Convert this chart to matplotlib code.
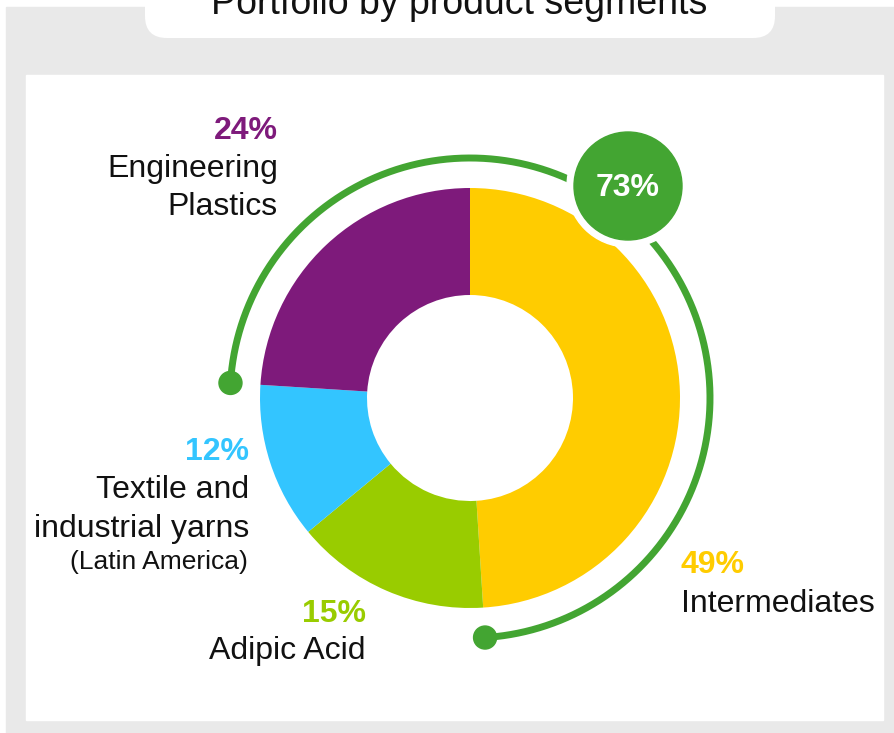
import numpy as np
import matplotlib
matplotlib.use("Agg")
import matplotlib.pyplot as plt
from matplotlib.patches import Rectangle, FancyBboxPatch, Circle

plt.rcParams['font.family'] = ['Liberation Sans', 'DejaVu Sans']

# data (clockwise from 12 o'clock)
segments = ['Intermediates', 'Adipic Acid', 'Textile and\nindustrial yarns', 'Engineering\nPlastics']
shares = [49, 15, 12, 24]
colors = ['#FFCC00', '#99CC00', '#33C5FF', '#7E1A7B']
highlight_share = 73   # Intermediates + Engineering Plastics
title = 'Portfolio by product segments'

W, H = 895, 733
fig = plt.figure(figsize=(W / 100, H / 100), dpi=100)
ax = fig.add_axes([0, 0, 1, 1])

def Y(y):
    # pixel row (top down) -> axes y
    return H - y

# backgrounds
ax.add_patch(Rectangle((6, 0), W - 6, Y(7), color='#e9e9e9', zorder=0))
ax.add_patch(Rectangle((26, Y(720)), 857, 645, color='white', zorder=1))
ax.add_patch(FancyBboxPatch((145, Y(38)), 630, 60, boxstyle='round,pad=0,rounding_size=22',
                            fc='white', ec='none', zorder=1))
ax.text(459, Y(14), title, fontsize=27, ha='center', va='baseline', color='#111111', zorder=3)

# donut
cx, cy = 470, Y(398)
ax.pie(shares, colors=colors, startangle=90, counterclock=False, center=(cx, cy),
       radius=210, wedgeprops=dict(width=107, linewidth=0), frame=True)

# green arc spanning Engineering Plastics + Intermediates
green = '#43A532'
a0 = 90 + 360 * shares[3] / 100
a1 = 90 - 360 * shares[0] / 100
th = np.radians(np.linspace(a0, a1, 300))
r_arc = 240
ax.plot(cx + r_arc * np.cos(th), cy + r_arc * np.sin(th), color=green, lw=5, solid_capstyle='butt', zorder=4)
for a in (a0, a1):
    ax.add_patch(Circle((cx + r_arc * np.cos(np.radians(a)), cy + r_arc * np.sin(np.radians(a))),
                        11.5, color=green, zorder=5))

# 73% badge
bx, by = 628, Y(186)
ax.add_patch(Circle((bx, by), 61, color='white', zorder=6))
ax.add_patch(Circle((bx, by), 54, color=green, zorder=7))
ax.text(bx, Y(196), f'{highlight_share}%', fontsize=23, fontweight='bold', color='white',
        ha='center', va='baseline', zorder=8)

fs = 23
# Engineering Plastics
ax.text(278, Y(139), f'{shares[3]}%', fontsize=fs, fontweight='bold', color=colors[3], ha='right', va='baseline')
ax.text(278, Y(177), 'Engineering', fontsize=fs, color='#111111', ha='right', va='baseline')
ax.text(278, Y(215), 'Plastics', fontsize=fs, color='#111111', ha='right', va='baseline')

# Textile and industrial yarns
ax.text(249, Y(460), f'{shares[2]}%', fontsize=fs, fontweight='bold', color=colors[2], ha='right', va='baseline')
ax.text(249, Y(498), 'Textile and', fontsize=fs, color='#111111', ha='right', va='baseline')
ax.text(249, Y(537), 'industrial yarns', fontsize=fs, color='#111111', ha='right', va='baseline')
ax.text(248, Y(569), '(Latin America)', fontsize=19, color='#111111', ha='right', va='baseline')

# Adipic Acid
ax.text(366, Y(622), f'{shares[1]}%', fontsize=fs, fontweight='bold', color=colors[1], ha='right', va='baseline')
ax.text(366, Y(659), 'Adipic Acid', fontsize=fs, color='#111111', ha='right', va='baseline')

# Intermediates
ax.text(681, Y(573), f'{shares[0]}%', fontsize=fs, fontweight='bold', color=colors[0], ha='left', va='baseline')
ax.text(681, Y(612), 'Intermediates', fontsize=fs, color='#111111', ha='left', va='baseline')

ax.set_xlim(0, W)
ax.set_ylim(0, H)
ax.set_aspect('auto')
ax.axis('off')

fig.savefig('out.png', dpi=100)
